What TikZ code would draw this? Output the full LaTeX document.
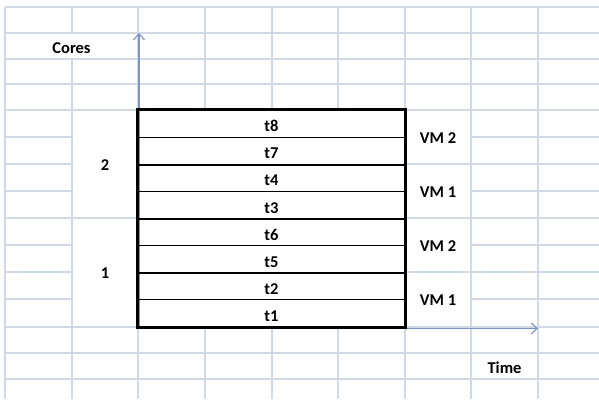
\documentclass[tikz,border=0pt]{standalone}
\usepackage{fontspec}
\setmainfont{Carlito}
\usetikzlibrary{arrows.meta}
\definecolor{gridc}{RGB}{210,217,230}
\definecolor{axisc}{RGB}{118,150,204}
\begin{document}
\begin{tikzpicture}[x=1pt,y=-1pt,
  gridline/.style={draw=gridc,line width=1.1pt},
  axisline/.style={draw=axisc,line width=1.1pt,-{Straight Barb[length=6pt,width=11pt,line width=1.1pt]}},
  lbl/.style={font=\fontsize{16.5}{18}\selectfont\bfseries,inner sep=0pt},
  taskrow/.style={draw=black,line width=1pt,minimum width=267pt,minimum height=27.125pt,inner sep=0pt},
  thick border/.style={draw=black,line width=2.2pt}]
\useasboundingbox (0,0) rectangle (599,399);
\fill[white] (0,0) rectangle (599,399);
% spreadsheet grid
\foreach \y in {7,33,59,84,110,137,164,191,218,245,272,299,327,353,379}
  \draw[gridline] (5,\y) -- (599,\y);
\foreach \x in {5,72,138,205,272,338,405,471,538}
  \draw[gridline] (\x,7) -- (\x,399);
% merged cells (no inner grid lines)
\fill[white] (6,34) rectangle (137,58);
\fill[white] (73,111) rectangle (137,217);
\fill[white] (73,219) rectangle (137,326);
\fill[white] (406,111) rectangle (470,163);
\fill[white] (406,165) rectangle (470,217);
\fill[white] (406,219) rectangle (470,271);
\fill[white] (406,273) rectangle (470,326);
\fill[white] (139,111) rectangle (404,326);
% axes
\coordinate (O) at (139,328.5);
\coordinate (ytop) at (139,33);
\coordinate (xend) at (538,328.5);
\draw[axisline] (O) -- (ytop);
\draw[axisline] (O) -- (xend);
% task rows
\foreach \t [count=\i from 0] in {t8,t7,t4,t3,t6,t5,t2,t1}{
  \node[taskrow] (\t) at (271.5,{110+27.125*(\i+0.5)}) {};
  \node[lbl,anchor=base] (\t-l) at (271.5,{110+27.125*(\i+1)-5.5}) {\t};
}
% thick borders
\draw[thick border] (t8.north west) rectangle (t1.south east);
\draw[thick border] (t7.south west) -- (t7.south east);
\draw[thick border] (t3.south west) -- (t3.south east);
\draw[thick border] (t5.south west) -- (t5.south east);
% labels
\node[lbl,anchor=base] (cores) at (71.5,53.5) {Cores};
\node[lbl,anchor=base] (time) at (504.5,373.5) {Time};
\node[lbl] (c2) at (105,165) {2};
\node[lbl] (c1) at (105,273) {1};
\node[lbl] (vmA) at (438,138) {VM 2};
\node[lbl] (vmB) at (438,192) {VM 1};
\node[lbl] (vmC) at (438,246) {VM 2};
\node[lbl] (vmD) at (438,300) {VM 1};
\end{tikzpicture}
\end{document}
